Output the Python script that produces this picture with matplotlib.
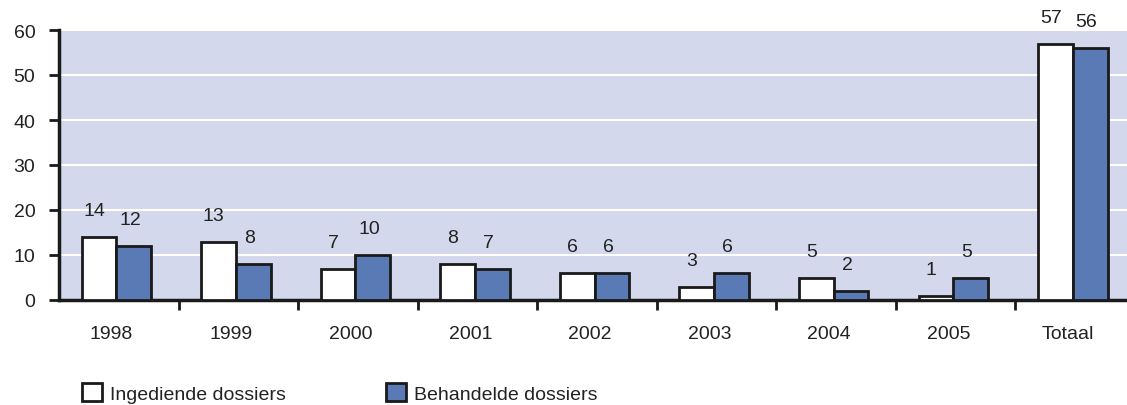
import numpy as np
import matplotlib.pyplot as plt
from matplotlib.patches import Rectangle

# data
categories = ['1998', '1999', '2000', '2001', '2002', '2003', '2004', '2005', 'Totaal']
ingediend = [14, 13, 7, 8, 6, 3, 5, 1, 57]
behandeld = [12, 8, 10, 7, 6, 6, 2, 5, 56]
yticks = [0, 10, 20, 30, 40, 50, 60]

white_col = '#FFFFFF'
blue_col = '#5A7AB5'
bg_col = '#D3D8EC'
edge = '#1A1A1A'
txt = '#222222'
fs = 14

W, H = 1127, 406
fig = plt.figure(figsize=(W / 100, H / 100), dpi=100)
plt.rcParams['font.family'] = ['Liberation Sans', 'DejaVu Sans']

# axes from x=59px to beyond the right edge, y from 301px (0) to 31px (60)
ax = fig.add_axes([59 / W, (H - 301) / H, (1135 - 59) / W, 270 / H])
ax.set_facecolor(bg_col)

x = np.arange(len(categories))
bw = 0.29
ax.bar(x - bw / 2 - 0.02, ingediend, bw, color=white_col, edgecolor=edge, linewidth=2, zorder=3)
ax.bar(x + bw / 2 - 0.02, behandeld, bw, color=blue_col, edgecolor=edge, linewidth=2, zorder=3)

for xi, v in zip(x, ingediend):
    ax.annotate(str(v), (xi - bw / 2 - 0.06, v), xytext=(0, 19), textcoords='offset points',
                ha='center', va='center', fontsize=fs, color=txt, annotation_clip=False)
for xi, v in zip(x, behandeld):
    ax.annotate(str(v), (xi + bw / 2 - 0.05, v), xytext=(0, 19), textcoords='offset points',
                ha='center', va='center', fontsize=fs, color=txt, annotation_clip=False)

ax.set_xlim(-0.5, len(categories) - 0.5)
ax.set_ylim(0, 60)
ax.set_yticks(yticks)
ax.yaxis.grid(True, color='white', linewidth=1.5, zorder=0)
ax.set_axisbelow(True)
ax.tick_params(axis='y', direction='out', length=7, width=2, labelsize=fs, pad=10, colors=edge, labelcolor=txt)

# category ticks sit on the boundaries, labels centred under the groups
ax.set_xticks(x[:-1] + 0.5)
ax.set_xticklabels([])
ax.tick_params(axis='x', direction='out', length=7, width=2, colors=edge)
for xi, c in zip(x, categories):
    ax.text(xi - 0.06, -5.6, c, ha='center', va='top', fontsize=fs, color=txt)

for s in ['top', 'right']:
    ax.spines[s].set_visible(False)
for s in ['left', 'bottom']:
    ax.spines[s].set_linewidth(2.5)
    ax.spines[s].set_color(edge)

# legend drawn manually at the bottom
for px, col, label in [(82, white_col, 'Ingediende dossiers'), (386, blue_col, 'Behandelde dossiers')]:
    fig.patches.append(Rectangle((px / W, (H - 402) / H), 20 / W, 18 / H, transform=fig.transFigure,
                                 facecolor=col, edgecolor=edge, linewidth=2))
    fig.text((px + 28) / W, (H - 396) / H, label, ha='left', va='center', fontsize=fs, color=txt)

fig.savefig('out.png', dpi=100)
